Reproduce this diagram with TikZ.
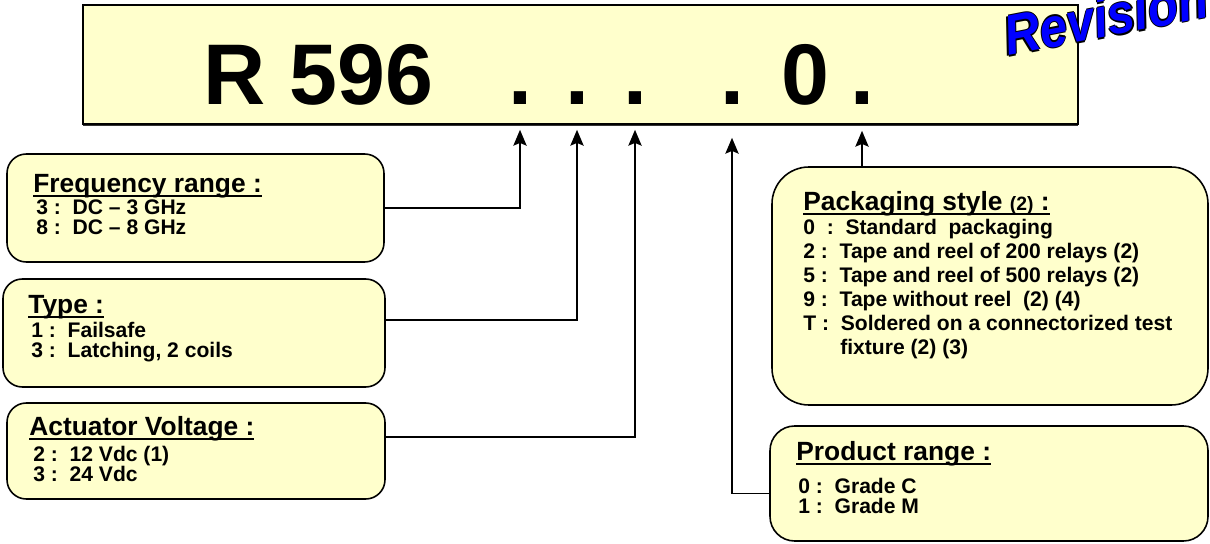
\documentclass[tikz,border=0pt]{standalone}
\usepackage{fontspec}
\setmainfont{Liberation Sans}
\usetikzlibrary{arrows.meta,fit,calc,shadows}

\definecolor{cream}{RGB}{255,255,204}
\definecolor{wablue}{RGB}{0,0,255}

% underlined heading
\newcommand\hdline[1]{\setbox0\hbox{#1}\rlap{\rule[-2.6pt]{\wd0}{1pt}}\box0}
% outlined word
\newcommand\wordart[1]{%
  \rlap{\color{black}\hspace*{-0.9pt}#1}%
  \rlap{\color{black}\hspace*{0.9pt}#1}%
  \rlap{\color{black}\raisebox{0.9pt}{#1}}%
  \rlap{\color{black}\raisebox{-0.9pt}{#1}}%
  \textcolor{wablue}{#1}}

\begin{document}
\begin{tikzpicture}[
    x=0.02cm, y=-0.02cm,
    panel/.style={draw, line width=0.9pt, fill=cream, rounded corners=11pt, inner sep=0pt},
    ttl/.style={anchor=base west, inner sep=0pt, font=\fontsize{15}{18}\selectfont\bfseries},
    itm/.style={anchor=base west, inner sep=0pt, font=\fontsize{12}{14}\selectfont\bfseries},
    big/.style={anchor=base, inner sep=0pt, font=\fontsize{49}{55}\selectfont\bfseries},
    arr/.style={draw, line width=1.1pt, -{Stealth[length=9pt, width=7.5pt, inset=1.5pt]}}
]
\useasboundingbox (0,0) rectangle (1210,544);
\clip (0,0) rectangle (1210,544);

% part number
\node[draw, line width=0.9pt, fill=cream, inner sep=0pt, fit={(83,5) (1078,124)},
      drop shadow={shadow xshift=0pt, shadow yshift=-1.3pt, fill=black!80, opacity=1}] (code) {};
\node[big, anchor=base west] (r596) at (203,105) {R 596};
\node[big] (d1) at (520,105) {.};
\node[big] (d2) at (577,105) {.};
\node[big] (d3) at (635,105) {.};
\node[big] (d4) at (732,105) {.};
\node[big] (zero) at (805,105) {0};
\node[big] (d5) at (862,105) {.};

\node[font=\fontsize{32}{34}\selectfont\bfseries\itshape, rotate=11, anchor=base west, inner sep=0pt]
    (rev) at (1008,56) {\scalebox{0.88}[1]{\wordart{Revision}}};

% left boxes
\node[panel, fit={(7,154) (384,262)}] (freq) {};
\node[ttl] (freqh) at (33,192) {\hdline{Frequency range :}};
\node[itm] (freq3) at (36,214) {3 :\ \ DC – 3 GHz};
\node[itm] (freq8) at (36,234) {8 :\ \ DC – 8 GHz};

\node[panel, fit={(3,279) (385,387)}] (type) {};
\node[ttl] (typeh) at (28,313) {\hdline{Type :}};
\node[itm] (type1) at (31,337) {1 :\ \ Failsafe};
\node[itm] (type3) at (31,357) {3 :\ \ Latching, 2 coils};

\node[panel, fit={(7,403) (385,499)}] (volt) {};
\node[ttl] (volth) at (29,435) {\hdline{Actuator Voltage :}};
\node[itm] (volt2) at (33,461) {2 :\ \ 12 Vdc (1)};
\node[itm] (volt3) at (33,481) {3 :\ \ 24 Vdc};

% right boxes
\node[panel, rounded corners=21pt, fit={(772,167) (1208,405)}] (pack) {};
\node[ttl] (packh) at (803,210) {\hdline{Packaging style {\fontsize{11}{13}\selectfont(2)} :}};
\node[itm] (pack0) at (803,234) {0\ \ :\ \ Standard\ \ packaging};
\node[itm] (pack2) at (803,258) {2 :\ \ Tape and reel of 200 relays (2)};
\node[itm] (pack5) at (803,282) {5 :\ \ Tape and reel of 500 relays (2)};
\node[itm] (pack9) at (803,306) {9 :\ \ Tape without reel\ \ (2) (4)};
\node[itm] (packT) at (803,330) {T :\ \ Soldered on a connectorized test};
\node[itm] (packf) at (840,354) {fixture (2) (3)};

\node[panel, rounded corners=14pt, fit={(770,426) (1208,541)}] (prod) {};
\node[ttl] (prodh) at (796,460) {\hdline{Product range :}};
\node[itm] (prod0) at (798,493) {0 :\ \ Grade C};
\node[itm] (prod1) at (798,513) {1 :\ \ Grade M};

% connectors
\draw[arr] (freq.east) -| ($(d1 |- code.south)+(0,5)$);
\draw[arr] ($(type.east)+(0,-13)$) -| ($(d2 |- code.south)+(0,5)$);
\draw[arr] ($(volt.east)+(0,-14)$) -| ($(d3 |- code.south)+(0,5)$);
\draw[arr] ($(prod.west)+(0,10)$) -| ($(d4 |- code.south)+(0,13)$);
\draw[arr] (d5 |- pack.north) -- ($(d5 |- code.south)+(0,6)$);
\end{tikzpicture}
\end{document}
